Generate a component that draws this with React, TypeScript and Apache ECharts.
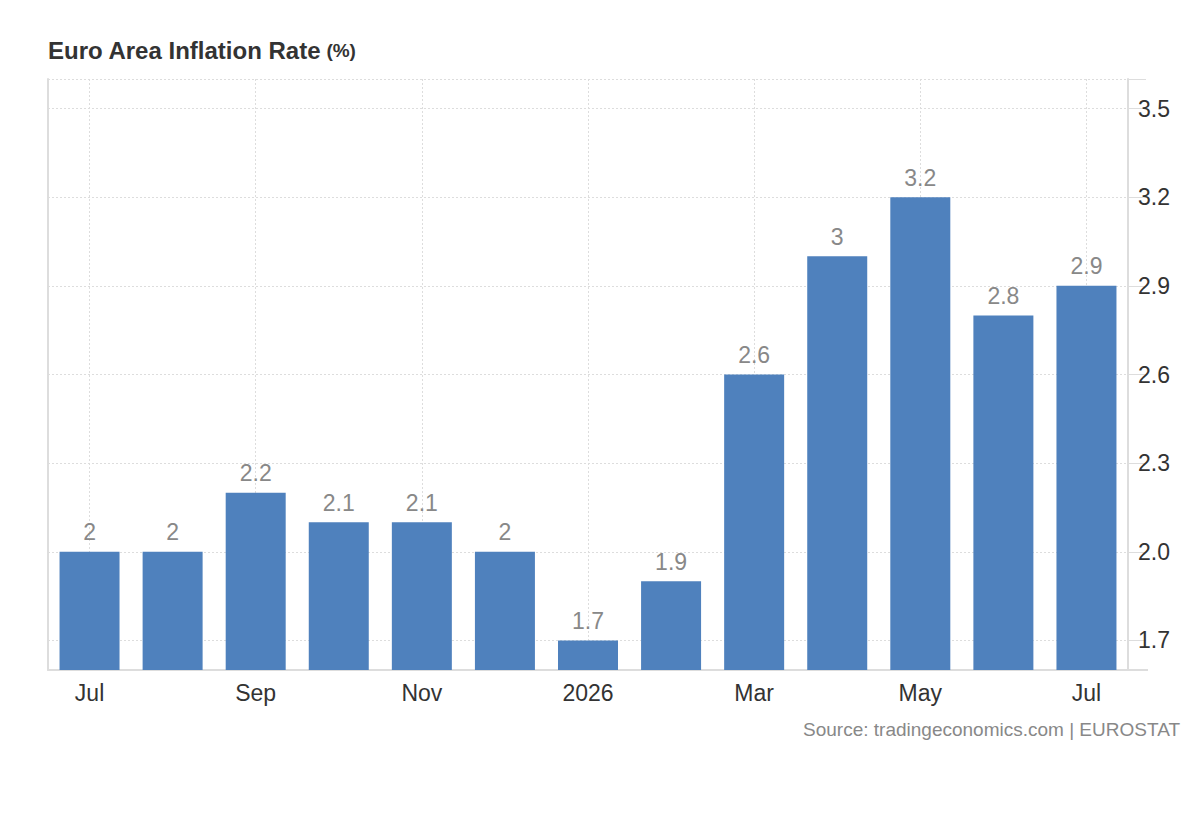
import React, { useEffect, useRef } from "react";
import * as echarts from "echarts";

const categories = ["Jul", "Aug", "Sep", "Oct", "Nov", "Dec", "2026", "Feb", "Mar", "Apr", "May", "Jun", "Jul"];
const values = [2, 2, 2.2, 2.1, 2.1, 2, 1.7, 1.9, 2.6, 3, 3.2, 2.8, 2.9];
const yTickLabels = [1.7, 2.0, 2.3, 2.6, 2.9, 3.2, 3.5];
const yGridValues = [1.7, 2.0, 2.3, 2.6, 2.9, 3.2, 3.5, 3.6];
const yMin = 1.6;
const yMax = 3.6;

const FONT = "'Liberation Sans', Arial, sans-serif";

export default function App() {
  const ref = useRef<HTMLDivElement>(null);
  useEffect(() => {
    if (!ref.current) return;
    const chart = echarts.init(ref.current, undefined, { renderer: "svg" });
    chart.setOption({
      animation: false,
      backgroundColor: "#fff",
      textStyle: { fontFamily: FONT },
      title: {
        text: "{a|Euro Area Inflation Rate} {b|(%)}",
        left: 43,
        top: 33,
        textStyle: {
          rich: {
            a: { fontSize: 24, fontWeight: "bold", color: "#333", fontFamily: FONT },
            b: { fontSize: 19, fontWeight: "bold", color: "#333", fontFamily: FONT },
          },
        },
      },
      grid: { left: 48, right: 72, top: 79, bottom: 150, containLabel: false },
      xAxis: {
        type: "category",
        data: categories,
        boundaryGap: true,
        axisLine: { show: true, lineStyle: { color: "#ddd", width: 2 } },
        axisTick: { show: false },
        axisLabel: { interval: 1, color: "#333", fontSize: 23, margin: 11, fontFamily: FONT },
        splitLine: {
          show: true,
          interval: 1,
          alignWithLabel: true,
          lineStyle: { color: "#ddd", type: [2, 2], width: 1 },
        } as any,
      },
      yAxis: [
        {
          type: "value",
          position: "right",
          min: yMin,
          max: yMax,
          axisLine: { show: true, lineStyle: { color: "#ddd", width: 2 } },
          axisTick: { show: true, length: 18, customValues: yGridValues, lineStyle: { color: "#ddd" } },
          axisLabel: {
            customValues: yTickLabels,
            color: "#333",
            fontSize: 23,
            margin: 10,
            fontFamily: FONT,
            formatter: (v: number) => v.toFixed(1),
          },
          splitLine: { show: true, lineStyle: { color: "#ddd", type: [2, 2], width: 1 } },
        },
        {
          type: "value",
          position: "left",
          min: yMin,
          max: yMax,
          axisLine: { show: true, lineStyle: { color: "#ddd", width: 2 } },
          axisTick: { show: false },
          axisLabel: { show: false },
          splitLine: { show: false },
        },
      ],
      series: [
        {
          type: "bar",
          data: values,
          barWidth: 60,
          itemStyle: { color: "#4f81bd" },
          label: {
            show: true,
            position: "top",
            distance: 8,
            color: "#888",
            fontSize: 23,
            fontFamily: FONT,
          },
        },
      ],
      graphic: [
        {
          type: "line",
          shape: { x1: 1128, y1: 670, x2: 1148, y2: 670 },
          style: { stroke: "#ddd", lineWidth: 2 },
        },
        {
          type: "text",
          right: 20,
          top: 720,
          style: {
            text: "Source: tradingeconomics.com | EUROSTAT",
            fill: "#888",
            fontSize: 19,
            fontFamily: FONT,
          },
        },
      ],
    });
    return () => chart.dispose();
  }, []);
  return <div ref={ref} style={{ width: 1200, height: 820, position: "absolute", left: 0, top: 0 }} />;
}
